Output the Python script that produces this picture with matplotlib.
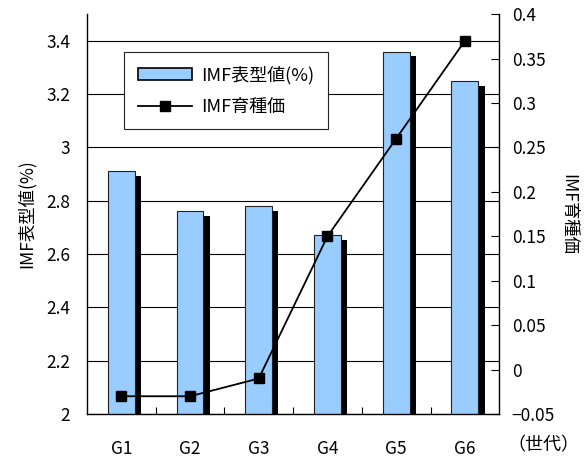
import matplotlib
matplotlib.use("Agg")
import matplotlib.pyplot as plt
import matplotlib.patheffects as pe
from matplotlib.patches import Patch
from matplotlib.lines import Line2D

plt.rcParams['font.family'] = ['Noto Sans CJK JP', 'DejaVu Sans']
plt.rcParams['font.size'] = 12.5

generations = ["G1", "G2", "G3", "G4", "G5", "G6"]
imf_pheno = [2.91, 2.76, 2.78, 2.67, 3.36, 3.25]       # IMF表型値(%)
imf_breeding = [-0.03, -0.03, -0.01, 0.15, 0.26, 0.37]  # IMF育種価
left_ticks = [2.0, 2.2, 2.4, 2.6, 2.8, 3.0, 3.2, 3.4]
right_ticks = [-0.05, 0.0, 0.05, 0.1, 0.15, 0.2, 0.25, 0.3, 0.35, 0.4]


def fmt(v):
    return "{:g}".format(round(v, 2)).replace("-", "\u2212")


fig = plt.figure(figsize=(5.88, 4.58), dpi=100)
ax = fig.add_axes([0.148, 0.096, 0.701, 0.873])
x = list(range(len(generations)))

bars = ax.bar(x, imf_pheno, width=0.39, color="#99CCFF", edgecolor="#222222",
              linewidth=0.8, zorder=2)
for b in bars:
    b.set_path_effects([pe.SimplePatchShadow(offset=(4.5, -3.4), shadow_rgbFace="black", alpha=1.0),
                        pe.Normal()])

ax.set_xlim(-0.5, 5.5)
ax.set_ylim(2.0, 3.5)
ax.set_yticks(left_ticks)
ax.set_yticklabels([fmt(v) for v in left_ticks])
ax.yaxis.grid(True, color="black", linewidth=0.8)
ax.set_axisbelow(True)
ax.tick_params(axis="y", length=0, pad=12)
ax.set_xticks(x)
ax.set_xticklabels(generations)
ax.set_xticks([i + 0.5 for i in range(5)], minor=True)
ax.tick_params(axis="x", which="major", length=0, pad=19)
ax.tick_params(axis="x", which="minor", direction="in", length=5, width=0.8)
for s in ("top", "right"):
    ax.spines[s].set_visible(False)
ax.spines["left"].set_linewidth(1.0)
ax.spines["bottom"].set_linewidth(1.0)
ax.set_ylabel("IMF表型値(%)", labelpad=8, fontsize=12.5)

ax2 = ax.twinx()
ax2.plot(x, imf_breeding, color="black", linewidth=1.3, marker="s",
         markersize=7.5, markerfacecolor="black", zorder=3)
ax2.set_ylim(-0.05, 0.4)
ax2.set_yticks(right_ticks)
ax2.set_yticklabels([fmt(v) for v in right_ticks])
ax2.tick_params(axis="y", direction="in", length=6, width=0.8, pad=9)
for s in ("top", "left", "bottom"):
    ax2.spines[s].set_visible(False)
ax2.spines["right"].set_linewidth(1.0)
ax2.set_ylabel("IMF育種価", rotation=270, labelpad=16, fontsize=12.5)

handles = [Patch(facecolor="#99CCFF", edgecolor="black", linewidth=1.2),
           Line2D([], [], color="black", linewidth=1.3, marker="s", markersize=7.5)]
leg = ax2.legend(handles, ["IMF表型値(%)", "IMF育種価"], loc="upper left",
                 bbox_to_anchor=(0.09, 0.905), borderaxespad=0, fancybox=False,
                 framealpha=1, edgecolor="#222222", handlelength=3.0, borderpad=0.75,
                 labelspacing=0.75, handletextpad=0.5, fontsize=13)
leg.get_frame().set_linewidth(0.8)

fig.text(0.925, 0.028, "（世代）", ha="center", va="center", fontsize=13)

fig.savefig("out.png", dpi=100)
